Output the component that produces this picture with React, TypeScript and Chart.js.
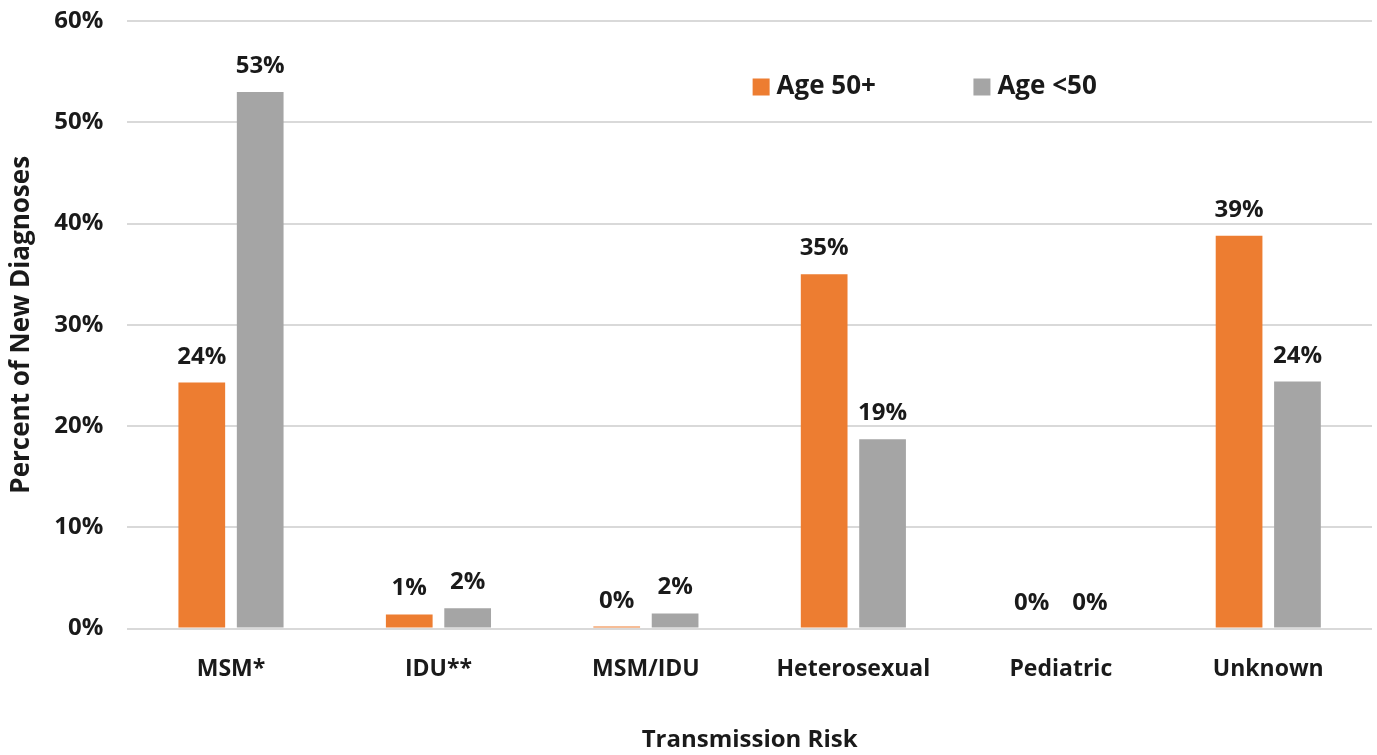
import React, { useEffect, useRef } from "react";
import { Chart, registerables } from "chart.js";

Chart.register(...registerables);

const categories = ["MSM*", "IDU**", "MSM/IDU", "Heterosexual", "Pediatric", "Unknown"];
const age50Plus = [24.3, 1.4, 0.2, 35.0, 0, 38.8];
const ageUnder50 = [53.0, 2.0, 1.5, 18.7, 0, 24.4];
const seriesLabels = ["Age 50+", "Age <50"];
const yTicks = [0, 10, 20, 30, 40, 50, 60];

const ORANGE = "#ED7D31";
const GRAY = "#A5A5A5";
const TEXT = "#1a1a1a";
const FONT = "'Open Sans', 'DejaVu Sans', sans-serif";

const labelPlugin = {
  id: "valueLabels",
  afterDatasetsDraw(chart: any) {
    const ctx = chart.ctx;
    ctx.save();
    ctx.font = `bold 24px ${FONT}`;
    ctx.fillStyle = TEXT;
    ctx.textAlign = "center";
    ctx.textBaseline = "alphabetic";
    chart.data.datasets.forEach((ds: any, di: number) => {
      const meta = chart.getDatasetMeta(di);
      meta.data.forEach((bar: any, i: number) => {
        const v = ds.data[i];
        ctx.fillText(`${Math.round(v)}%`, bar.x, bar.y - 19);
      });
    });
    ctx.restore();
  },
};

const legendPlugin = {
  id: "innerLegend",
  afterDraw(chart: any) {
    const { ctx, chartArea } = chart;
    const w = chartArea.right - chartArea.left;
    const xs = [0.5024, 0.6798];
    const y = chartArea.top + 66;
    ctx.save();
    ctx.font = `bold 26px ${FONT}`;
    ctx.textBaseline = "middle";
    ctx.textAlign = "left";
    chart.data.datasets.forEach((ds: any, di: number) => {
      const x = chartArea.left + xs[di] * w;
      ctx.fillStyle = ds.backgroundColor;
      ctx.fillRect(x, y - 8.5, 17, 17);
      ctx.fillStyle = TEXT;
      ctx.fillText(ds.label, x + 24, y);
    });
    ctx.restore();
  },
};

export default function App() {
  const ref = useRef<HTMLCanvasElement>(null);
  useEffect(() => {
    document.body.style.margin = "0";
    const chart = new Chart(ref.current!, {
      type: "bar",
      data: {
        labels: categories,
        datasets: [
          { label: seriesLabels[0], data: age50Plus, backgroundColor: ORANGE, categoryPercentage: 0.563, barPercentage: 0.8 },
          { label: seriesLabels[1], data: ageUnder50, backgroundColor: GRAY, categoryPercentage: 0.563, barPercentage: 0.8 },
        ],
      },
      options: {
        animation: false,
        responsive: false,
        layout: { padding: { top: 21, right: 5, left: 6, bottom: 0 } },
        plugins: {
          legend: { display: false },
          tooltip: { enabled: false },
        },
        scales: {
          x: {
            grid: { display: false, drawTicks: false },
            border: { display: false },
            ticks: { color: TEXT, font: { family: FONT, size: 23, weight: "bold" }, padding: 27 },
            title: { display: true, text: "Transmission Risk", color: TEXT, font: { family: FONT, size: 24, weight: "bold" }, padding: { top: 16, bottom: 0 } },
          },
          y: {
            min: 0,
            max: 60,
            afterBuildTicks(axis: any) {
              axis.ticks = yTicks.map((v) => ({ value: v }));
            },
            grid: { color: "#D9D9D9", lineWidth: 2, drawTicks: true, tickLength: 18, tickColor: "rgba(0,0,0,0)" },
            border: { display: false },
            ticks: { color: TEXT, font: { family: FONT, size: 24, weight: "bold" }, padding: 6, callback: (v: any) => `${v}%` },
            title: { display: true, text: "Percent of New Diagnoses", color: TEXT, font: { family: FONT, size: 26, weight: "bold" }, padding: { top: 0, bottom: 11 } },
          },
        },
      },
      plugins: [labelPlugin, legendPlugin],
    });
    return () => chart.destroy();
  }, []);
  return (
    <div style={{ width: 1377, height: 755 }}>
      <canvas ref={ref} width={1377} height={755} />
    </div>
  );
}
